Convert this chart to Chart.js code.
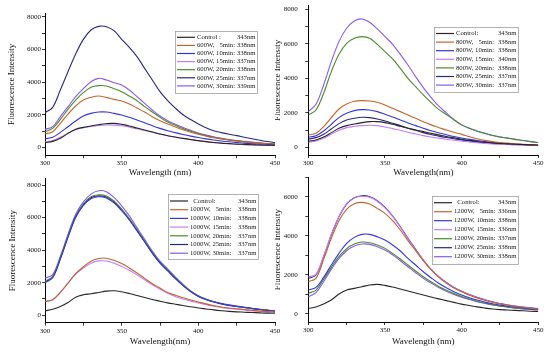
<!DOCTYPE html>
<html>
<head>
<meta charset="utf-8">
<script src="https://cdn.jsdelivr.net/npm/chart.js@4"></script>
<style>
html, body { margin: 0; padding: 0; background: #fff; width: 550px; height: 352px; overflow: hidden; position: relative; }
canvas { position: absolute; }
</style>
</head>
<body>
<canvas id="c1" width="300" height="180" style="left:0;top:0"></canvas>
<canvas id="c2" width="280" height="180" style="left:275px;top:0"></canvas>
<canvas id="c3" width="300" height="176" style="left:0;top:176px"></canvas>
<canvas id="c4" width="280" height="176" style="left:275px;top:176px"></canvas>
<script>
// wavelength (nm), one point every 5 nm
const wl = [300,305,310,315,320,325,330,335,340,345,350,355,360,365,370,375,380,385,390,395,400,405,410,415,420,425,430,435,440,445,450];
const xTicks = [300,325,350,375,400,425,450];
const yTicks8k = [0,1000,2000,3000,4000,5000,6000,7000,8000];
const yTicks7k = [0,1000,2000,3000,4000,5000,6000,7000];

// 600W
const w600_ctrl = [286,367,551,857,1102,1224,1306,1388,1449,1469,1408,1306,1184,1061,939,816,714,630,550,480,410,350,300,260,230,200,180,160,140,130,120];
const w600_5  = [816,959,1469,2041,2531,2898,3061,3143,3061,2939,2837,2653,2408,2163,1878,1633,1429,1250,1080,930,800,690,590,510,440,380,330,290,250,220,190];
const w600_10 = [531,612,918,1265,1612,1918,2082,2163,2163,2082,1980,1837,1673,1510,1327,1163,1020,900,790,690,600,520,450,390,340,300,260,230,200,180,160];
const w600_15 = [330,420,620,880,1080,1200,1280,1340,1370,1360,1320,1240,1140,1030,920,810,710,620,540,470,400,340,290,250,220,190,170,150,135,120,110];
const w600_20 = [959,1163,1714,2327,2898,3347,3673,3776,3755,3592,3408,3143,2857,2490,2163,1837,1551,1350,1150,980,840,720,620,530,460,400,350,300,260,230,200];
const w600_25 = [2122,2449,3510,4633,5714,6612,7184,7408,7388,7143,6612,6122,5551,4837,4122,3408,2857,2400,2000,1700,1430,1200,1020,900,800,720,620,530,440,360,290];
const w600_30 = [1102,1265,1878,2490,3102,3592,4020,4224,4122,3959,3816,3510,3102,2694,2286,1918,1633,1420,1220,1040,880,760,650,560,480,420,370,320,280,240,210];
const names600 = ["Control :", "600W,   5min:", "600W, 10min:", "600W, 15min:", "600W, 20min:", "600W, 25min:", "600W, 30min:"];
const peaks600 = ["343nm", "338nm", "338nm", "337nm", "338nm", "337nm", "339nm"];

// 800W
const w800_ctrl = [367,425,599,850,1101,1256,1353,1430,1488,1488,1430,1333,1217,1101,1005,908,810,720,630,550,470,400,340,290,250,220,200,180,160,140,130];
const w800_5  = [715,812,1198,1720,2222,2512,2667,2705,2686,2609,2454,2261,2068,1874,1681,1488,1300,1150,1000,870,750,620,500,400,330,280,240,200,170,150,130];
const w800_10 = [580,676,947,1333,1720,1971,2126,2184,2164,2068,1913,1758,1585,1411,1256,1101,960,840,730,630,540,460,390,330,280,240,210,180,160,140,120];
const w800_15 = [290,367,522,754,986,1140,1217,1256,1275,1256,1179,1082,986,870,773,676,600,530,470,410,360,310,270,230,200,180,160,140,130,115,100];
const w800_20 = [1874,2164,3130,4386,5391,6029,6319,6415,6319,5971,5546,5121,4580,4000,3517,3034,2600,2200,1900,1600,1300,1100,950,820,700,600,530,460,390,330,280];
const w800_25 = [483,560,754,1063,1372,1585,1681,1739,1720,1643,1527,1391,1256,1101,986,850,740,650,570,500,430,370,320,270,230,200,180,160,140,120,100];
const w800_30 = [2068,2493,3614,4966,6126,6899,7324,7440,7246,6860,6415,5971,5391,4773,4097,3459,2900,2400,2000,1600,1300,1100,930,800,680,600,530,460,390,330,280];
const names800 = ["Control:", "800W,   5min:", "800W, 10min:", "800W, 15min:", "800W, 20min:", "800W, 25min:", "800W, 30min:"];
const peaks800 = ["343nm", "338nm", "338nm", "340nm", "338nm", "337nm", "337nm"];

// 1000W
const w1000_ctrl = [268,371,536,784,1113,1258,1320,1402,1485,1505,1443,1340,1216,1093,969,866,763,680,600,520,450,390,330,280,240,210,190,170,150,130,120];
const w1000_5  = [845,948,1402,1979,2557,2969,3320,3485,3505,3381,3175,2907,2598,2268,1938,1670,1402,1230,1080,940,820,700,600,510,450,400,350,300,260,230,200];
const w1000_10 = [2000,2300,3450,4800,6000,6750,7150,7280,7200,6900,6420,5850,5180,4500,3800,3200,2720,2250,1820,1450,1160,970,820,700,610,540,480,410,350,300,260];
const w1000_15 = [845,950,1400,1970,2530,2900,3200,3340,3330,3200,3000,2760,2480,2180,1870,1600,1350,1150,1000,870,760,650,560,480,420,370,320,280,240,210,190];
const w1000_20 = [2100,2380,3520,4870,6080,6850,7280,7400,7330,7020,6520,5940,5270,4570,3870,3250,2780,2300,1860,1480,1180,980,830,710,620,550,480,420,360,310,270];
const w1000_25 = [2050,2350,3480,4820,6050,6800,7220,7330,7260,6960,6470,5890,5220,4530,3840,3230,2760,2280,1840,1460,1170,975,825,705,615,545,478,415,355,305,265];
const w1000_30 = [2289,2495,3629,4969,6206,6969,7443,7649,7588,7237,6722,6103,5381,4660,3938,3320,2845,2350,1900,1500,1200,1000,850,730,640,570,500,430,370,320,280];
const names1000 = ["  Control:", "1000W,   5min:", "1000W, 10min:", "1000W, 15min:", "1000W, 20min:", "1000W, 25min:", "1000W, 30min:"];
const peaks1000 = ["343nm", "338nm", "338nm", "338nm", "337nm", "337nm", "337nm"];

// 1200W
const w1200_ctrl = [274,342,496,701,1009,1214,1299,1385,1470,1504,1453,1368,1265,1162,1060,957,855,760,670,580,490,420,350,290,240,210,190,170,150,130,110];
const w1200_5  = [1641,1812,2786,3863,4769,5350,5641,5709,5624,5402,5145,4769,4291,3744,3231,2718,2274,1880,1570,1320,1120,950,810,690,590,500,430,370,320,280,240];
const w1200_10 = [1214,1350,1863,2496,3094,3607,3915,4068,4068,3949,3778,3521,3214,2838,2496,2154,1846,1560,1330,1130,960,820,700,600,510,440,380,330,290,250,220];
const w1200_15 = [1880,2020,2950,4060,4990,5630,5940,6020,5970,5770,5430,4990,4440,3840,3280,2740,2260,1890,1590,1340,1140,970,830,710,600,510,440,380,330,290,250];
const w1200_20 = [1043,1214,1761,2376,2923,3333,3573,3675,3641,3521,3350,3094,2803,2496,2188,1897,1641,1400,1200,1030,880,750,640,550,470,400,350,300,260,230,200];
const w1200_25 = [1812,1983,2923,4034,4974,5624,5949,6051,6000,5795,5453,5009,4462,3863,3299,2752,2274,1900,1600,1350,1150,980,840,720,610,520,450,390,340,300,260];
const w1200_30 = [872,1077,1641,2274,2821,3231,3470,3573,3556,3436,3265,3026,2718,2410,2103,1812,1573,1340,1150,990,850,730,620,530,450,390,340,290,250,220,190];
const names1200 = ["  Control:", "1200W,   5min:", "1200W, 10min:", "1200W, 15min:", "1200W, 20min:", "1200W, 25min:", "1200W, 30min:"];
const peaks1200 = ["343nm", "336nm", "338nm", "336nm", "337nm", "338nm", "338nm"];

const colors = ["#262626", "#c4642c", "#3434e0", "#c77cff", "#4b8b2b", "#28287e", "#8a5af0"];
const serif = "'Liberation Serif', 'Times New Roman', serif";

// legend box drawn inside the plot, Origin style
const boxLegend = {
  id: "boxLegend",
  afterDatasetsDraw(chart, args, o) {
    const ctx = chart.ctx;
    ctx.save();
    ctx.fillStyle = "#fff";
    ctx.fillRect(o.x, o.y, o.w, o.h);
    ctx.strokeStyle = "#a0a0a0";
    ctx.lineWidth = 0.8;
    ctx.strokeRect(o.x + 0.5, o.y + 0.5, o.w, o.h);
    ctx.font = "6.7px " + serif;
    ctx.textBaseline = "middle";
    chart.data.datasets.forEach((ds, i) => {
      const yy = o.y + o.first + i * o.row;
      ctx.strokeStyle = ds.borderColor;
      ctx.lineWidth = 1.2;
      ctx.beginPath();
      ctx.moveTo(o.x + 2, yy);
      ctx.lineTo(o.x + 20, yy);
      ctx.stroke();
      ctx.fillStyle = "#222";
      ctx.textAlign = "left";
      ctx.fillText(o.names[i], o.x + 22, yy);
      ctx.textAlign = "right";
      ctx.fillText(o.peaks[i], o.x + o.w - 1.5, yy);
    });
    ctx.restore();
  }
};

function panel(id, series, names, peaks, s) {
  new Chart(document.getElementById(id), {
    type: "line",
    data: {
      datasets: series.map((vals, i) => ({
        label: names[i],
        data: vals.map((v, j) => ({ x: wl[j], y: v })),
        borderColor: colors[i],
        borderWidth: 1.1,
        pointRadius: 0,
        tension: 0.35,
        fill: false
      }))
    },
    options: {
      responsive: false,
      animation: false,
      layout: { padding: { left: 0, top: s.top, right: s.W - s.right, bottom: 0 } },
      plugins: {
        legend: { display: false },
        tooltip: { enabled: false },
        boxLegend: Object.assign({ names: names, peaks: peaks }, s.legend)
      },
      scales: {
        x: {
          type: "linear", min: 300, max: 450,
          afterBuildTicks: sc => { sc.ticks = xTicks.map(v => ({ value: v })); },
          afterFit: sc => { sc.height = s.H - s.bottom; sc.paddingLeft = 0; sc.paddingRight = 0; },
          border: { display: true, color: "#000", width: 1 },
          grid: { drawOnChartArea: false, tickLength: 3, tickColor: "#000", tickWidth: 0.8 },
          ticks: {
            autoSkip: false, maxRotation: 0, padding: 1, color: "#111",
            font: { family: serif, size: 7 },
            callback: v => (v % 50 === 0 ? String(v) : "")
          },
          title: { display: true, text: s.xTitle, color: "#111", font: { family: serif, size: 9 }, padding: { top: 0, bottom: s.xTitlePad } }
        },
        y: {
          type: "linear", min: s.ymin, max: s.ymax,
          afterBuildTicks: sc => { sc.ticks = s.yTicks.map(v => ({ value: v })); },
          afterFit: sc => { sc.width = s.left; sc.paddingTop = 0; sc.paddingBottom = 0; },
          border: { display: true, color: "#000", width: 1 },
          grid: { drawOnChartArea: false, tickLength: 3, tickColor: "#000", tickWidth: 0.8 },
          ticks: {
            autoSkip: false, padding: s.yLabelPad, color: "#111",
            font: { family: serif, size: 7 },
            callback: v => (v % 2000 === 0 ? String(v) : "")
          },
          title: { display: true, text: "Fluorescence Intensity", color: "#111", font: { family: serif, size: 9 }, padding: { top: s.yTitlePad, bottom: 0 } }
        }
      }
    },
    plugins: [boxLegend]
  });
}

panel("c1", [w600_ctrl, w600_5, w600_10, w600_15, w600_20, w600_25, w600_30], names600, peaks600, {
  W: 300, H: 180, left: 45, right: 275, top: 13.4, bottom: 155.2, ymin: -480, ymax: 8200, yTicks: yTicks8k,
  yLabelPad: 1, yTitlePad: 6.6, xTitlePad: 1.6, xTitle: "Wavelength (nm)",
  legend: { x: 175, y: 31, w: 82, h: 62, first: 6.3, row: 8.1 }
});
panel("c2", [w800_ctrl, w800_5, w800_10, w800_15, w800_20, w800_25, w800_30], names800, peaks800, {
  W: 280, H: 180, left: 33.3, right: 263.3, top: 5.85, bottom: 155.06, ymin: -450, ymax: 8200, yTicks: yTicks8k,
  yLabelPad: 7.5, yTitlePad: -2.6, xTitlePad: 1.6, xTitle: "Wavelength(nm)",
  legend: { x: 159, y: 27, w: 84, h: 65, first: 6.5, row: 8.6 }
});
panel("c3", [w1000_ctrl, w1000_5, w1000_10, w1000_15, w1000_20, w1000_25, w1000_30], names1000, peaks1000, {
  W: 300, H: 176, left: 45, right: 275, top: 2.5, bottom: 146.6, ymin: -450, ymax: 8400, yTicks: yTicks8k,
  yLabelPad: 1, yTitlePad: 7.5, xTitlePad: 4.6, xTitle: "Wavelength(nm)",
  legend: { x: 168, y: 18, w: 90, h: 65, first: 7, row: 8.7 }
});
panel("c4", [w1200_ctrl, w1200_5, w1200_10, w1200_15, w1200_20, w1200_25, w1200_30], names1200, peaks1200, {
  W: 280, H: 176, left: 33.3, right: 263.3, top: 1.2, bottom: 146, ymin: -425, ymax: 7000, yTicks: yTicks7k,
  yLabelPad: 7.5, yTitlePad: -2.6, xTitlePad: 4.6, xTitle: "Wavelength (nm)",
  legend: { x: 157, y: 20, w: 86, h: 68, first: 6.7, row: 9 }
});
</script>
</body>
</html>
